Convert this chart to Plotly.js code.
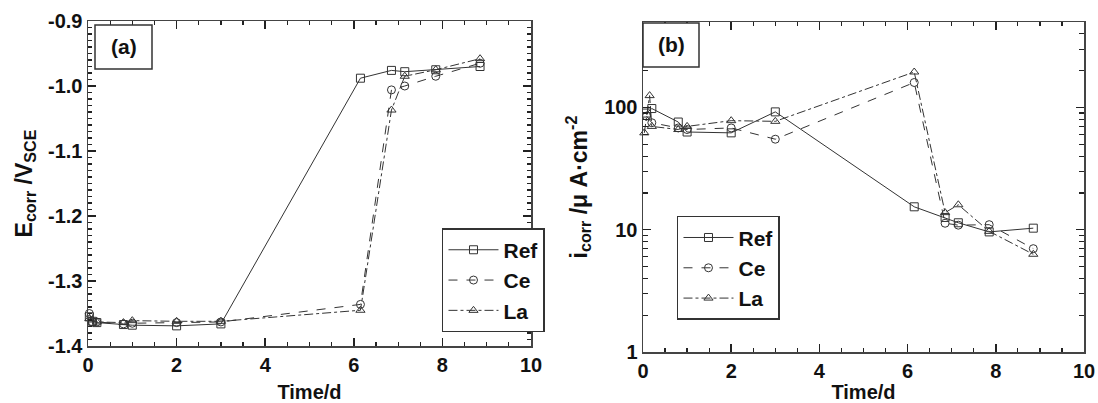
<!DOCTYPE html>
<html><head><meta charset="utf-8">
<script src="https://cdn.plot.ly/plotly-3.0.1.min.js"></script>
<style>html,body{margin:0;padding:0;background:#fff}#chart{width:1098px;height:403px}</style>
</head><body><div id="chart"></div>
<script>
// ---- Panel (a): corrosion potential vs time ----
const timeA = [0.03, 0.1, 0.2, 0.8, 1.0, 2.0, 3.0, 6.15, 6.85, 7.15, 7.85, 8.85];
const ecorrRef = [-1.355, -1.362, -1.364, -1.367, -1.368, -1.369, -1.366, -0.988, -0.976, -0.978, -0.975, -0.970];
const ecorrCe  = [-1.350, -1.363, -1.363, -1.366, -1.365, -1.364, -1.363, -1.336, -1.006, -1.000, -0.985, -0.965];
const ecorrLa  = [-1.358, -1.360, -1.363, -1.364, -1.361, -1.362, -1.362, -1.345, -1.037, -0.985, -0.975, -0.958];
const ticksA = [-1.4, -1.3, -1.2, -1.1, -1.0, -0.9];
const tickTextA = ['-1.4', '-1.3', '-1.2', '-1.1', '-1.0', '-0.9'];

// ---- Panel (b): corrosion current density vs time ----
const timeRefB = [0.08, 0.2, 0.8, 1.0, 2.0, 3.0, 6.15, 6.85, 7.15, 7.85, 8.85];
const icorrRef = [90, 98, 76, 63, 62, 92, 15.4, 12.6, 11.4, 9.6, 10.3];
const timeCeB  = [0.08, 0.2, 0.8, 1.0, 2.0, 3.0, 6.15, 6.85, 7.15, 7.85, 8.85];
const icorrCe  = [85, 75, 68, 66, 68, 55, 160, 11.3, 10.9, 11.0, 7.0];
const timeLaB  = [0.03, 0.15, 0.2, 0.8, 1.0, 2.0, 3.0, 6.15, 6.85, 7.15, 7.85, 8.85];
const icorrLa  = [62, 125, 70, 66, 70, 78, 77, 195, 13.8, 16.0, 9.7, 6.3];
const ticksB = [1, 10, 100];
const tickTextB = ['1', '10', '100'];
const minorB = [2,3,4,5,6,7,8,9,20,30,40,50,60,70,80,90,200,300,400];

const seriesNames = ['Ref', 'Ce', 'La'];
const dashes = ['solid', 'dash', 'dashdot'];
const symbols = ['square-open', 'circle-open', 'triangle-up-open'];

const FONT = 'Liberation Sans, Arial, sans-serif';
const lc = '#333';

function tr(x, y, i, xa, ya, leg) {
  return {
    x: x, y: y, name: seriesNames[i], type: 'scatter', mode: 'lines+markers',
    xaxis: xa, yaxis: ya, legend: leg,
    line: {color: lc, width: 1, dash: dashes[i]},
    marker: {symbol: symbols[i], size: 8, color: lc, line: {color: lc, width: 1}},
    cliponaxis: false
  };
}

const data = [
  tr(timeA, ecorrRef, 0, 'x', 'y', 'legend'),
  tr(timeA, ecorrCe, 1, 'x', 'y', 'legend'),
  tr(timeA, ecorrLa, 2, 'x', 'y', 'legend'),
  tr(timeRefB, icorrRef, 0, 'x2', 'y2', 'legend2'),
  tr(timeCeB, icorrCe, 1, 'x2', 'y2', 'legend2'),
  tr(timeLaB, icorrLa, 2, 'x2', 'y2', 'legend2')
];

const W = 1098, H = 403;
// plot area (inside margins) in pixels
const M = {l: 60, r: 10, t: 10, b: 40};
const PW = W - M.l - M.r, PH = H - M.t - M.b;
const dx = v => (v - M.l) / PW;          // pixel x -> axis domain fraction
const dy = v => (H - M.b - v) / PH;      // pixel y -> axis domain fraction
const px = v => v / W, py = v => 1 - v / H;  // pixel -> paper fraction

const tc = '#222';
function axisBase() {
  return {
    showgrid: false, zeroline: false,
    showline: true, linecolor: '#444', linewidth: 1.5,
    mirror: 'allticks', ticks: 'inside', ticklen: 8, tickwidth: 1.5, tickcolor: tc,
    tickfont: {family: FONT, size: 20, color: '#111'}
  };
}
function minorX() {
  return {dtick: 0.5, ticks: 'inside', ticklen: 4, tickwidth: 1.2, tickcolor: tc};
}
function xTitle() {
  return {text: '<b>Time/d</b>', font: {family: FONT, size: 20, color: '#111'}};
}

const layout = {
  width: W, height: H,
  margin: M,
  paper_bgcolor: '#fff', plot_bgcolor: '#fff',
  font: {family: FONT, color: '#111'},
  showlegend: true,
  xaxis: Object.assign(axisBase(), {
    domain: [dx(88), dx(531)], range: [0, 10], dtick: 2, anchor: 'y',
    tickvals: [0, 2, 4, 6, 8, 10], ticktext: ['<b>0</b>', '<b>2</b>', '<b>4</b>', '<b>6</b>', '<b>8</b>', '<b>10</b>'],
    minor: minorX(), title: xTitle()
  }),
  yaxis: Object.assign(axisBase(), {
    domain: [dy(346), dy(21)], range: [-1.4, -0.9], anchor: 'x',
    tickvals: ticksA, ticktext: tickTextA.map(t => '<b>' + t + '</b>'),
    minor: {dtick: 0.01, ticks: 'inside', ticklen: 4, tickwidth: 1.2, tickcolor: tc},
    title: {text: '<b>E<sub>corr</sub> /V<sub>SCE</sub></b>', font: {family: FONT, size: 23, color: '#111'}}
  }),
  xaxis2: Object.assign(axisBase(), {
    domain: [dx(643), dx(1084)], range: [0, 10], dtick: 2, anchor: 'y2',
    tickvals: [0, 2, 4, 6, 8, 10], ticktext: ['<b>0</b>', '<b>2</b>', '<b>4</b>', '<b>6</b>', '<b>8</b>', '<b>10</b>'],
    minor: minorX(), title: xTitle()
  }),
  yaxis2: Object.assign(axisBase(), {
    domain: [dy(352), dy(22)], type: 'log', range: [0, Math.log10(500)], anchor: 'x2',
    tickvals: ticksB, ticktext: tickTextB.map(t => '<b>' + t + '</b>'),
    minor: {tickvals: minorB, ticks: 'inside', ticklen: 5, tickwidth: 1.2, tickcolor: tc},
    title: {text: '<b>i<sub>corr</sub> /μ A·cm<sup>-2</sup></b>', font: {family: FONT, size: 23, color: '#111'}}
  }),
  legend: {
    x: px(408), y: py(249), xref: 'paper', yref: 'paper', xanchor: 'left', yanchor: 'top',
    bgcolor: '#fff', bordercolor: '#333', borderwidth: 1.5,
    font: {family: FONT, size: 21, color: '#111', weight: 'bold'},
    itemwidth: 50, tracegroupgap: 0
  },
  legend2: {
    x: px(659), y: py(235), xref: 'paper', yref: 'paper', xanchor: 'left', yanchor: 'top',
    bgcolor: '#fff', bordercolor: '#333', borderwidth: 1.5,
    font: {family: FONT, size: 21, color: '#111', weight: 'bold'},
    itemwidth: 50, tracegroupgap: 0
  },
  shapes: [
    {type: 'rect', xref: 'paper', yref: 'paper', x0: dx(95), x1: dx(152), y0: dy(69), y1: dy(25), line: {color: '#333', width: 1.5}, fillcolor: '#fff', layer: 'above'},
    {type: 'rect', xref: 'paper', yref: 'paper', x0: dx(643), x1: dx(699), y0: dy(67), y1: dy(23), line: {color: '#333', width: 1.5}, fillcolor: '#fff', layer: 'above'}
  ],
  annotations: [
    {text: '<b>(a)</b>', xref: 'paper', yref: 'paper', x: dx(123.5), y: dy(47), xanchor: 'center', yanchor: 'middle', showarrow: false, font: {family: FONT, size: 21, color: '#111'}},
    {text: '<b>(b)</b>', xref: 'paper', yref: 'paper', x: dx(671), y: dy(45), xanchor: 'center', yanchor: 'middle', showarrow: false, font: {family: FONT, size: 21, color: '#111'}}
  ]
};

Plotly.newPlot('chart', data, layout, {staticPlot: true});
</script>
</body></html>
